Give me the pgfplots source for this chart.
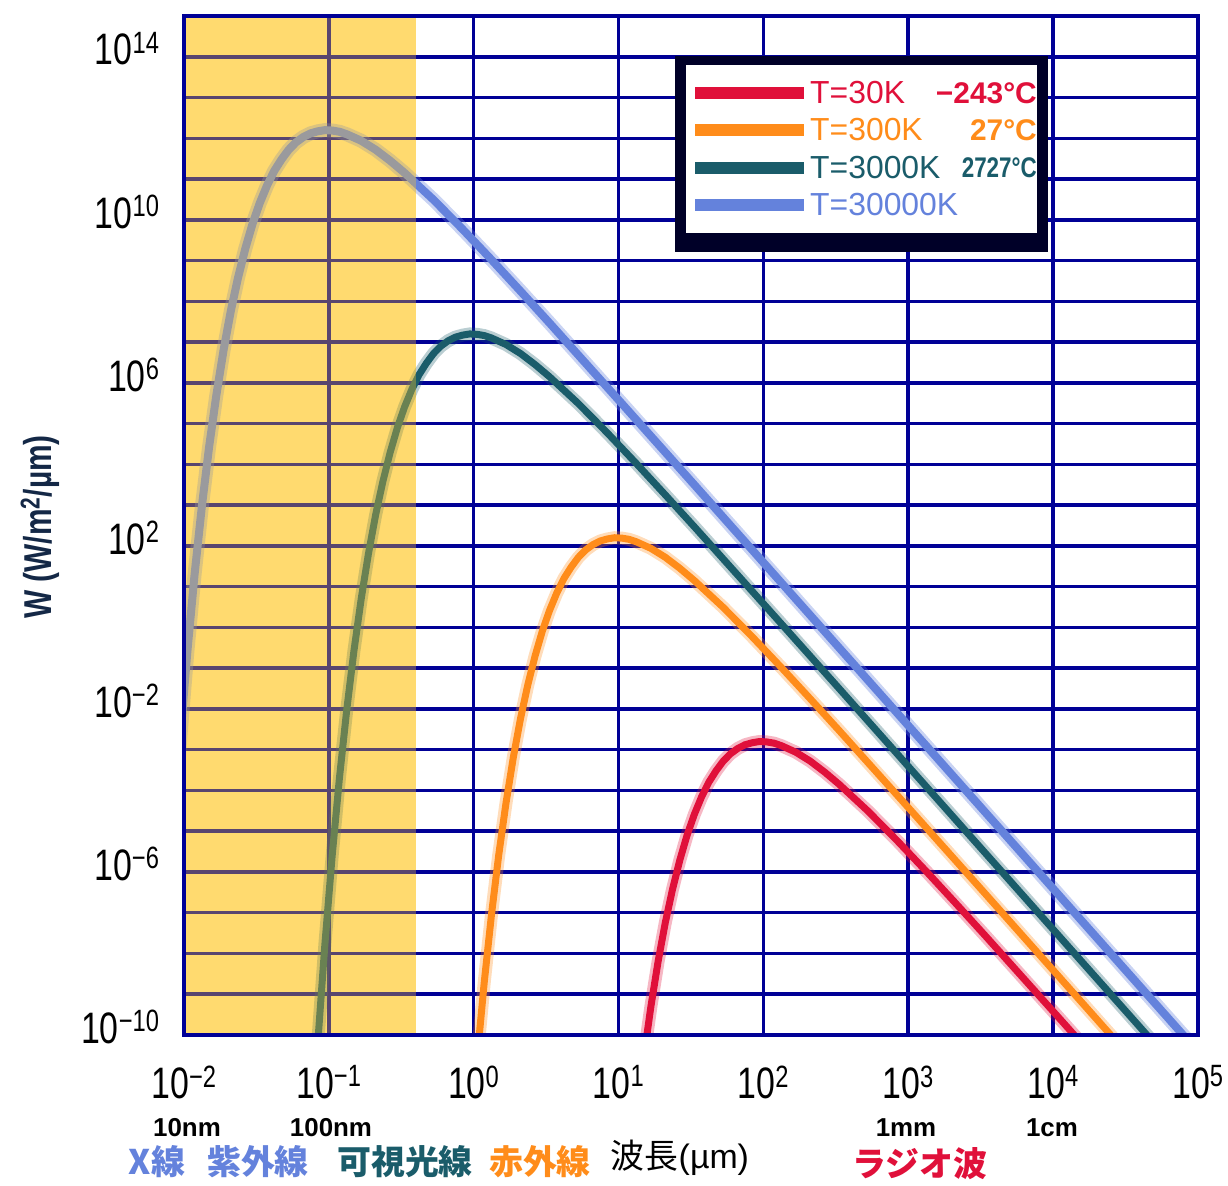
\documentclass[border=0pt]{standalone}
\usepackage{pgfplots}
\pgfplotsset{compat=1.18}
\usepackage{fontspec}
\setmainfont{Liberation Sans}
\newfontfamily\cjk{Noto Sans CJK JP}
\definecolor{gridblue}{RGB}{0,0,150}
\definecolor{cred}{RGB}{224,16,58}
\definecolor{corange}{RGB}{255,140,26}
\definecolor{cteal}{RGB}{26,92,106}
\definecolor{cblue}{RGB}{100,130,220}
\definecolor{yellowband}{RGB}{255,200,40}
\definecolor{yellowbase}{RGB}{255,228,150}
\definecolor{boxdark}{RGB}{0,0,40}
\newcommand{\tp}[1]{\scalebox{1}[1.3]{10\textsuperscript{#1}}}

% log10(wavelength / um)  vs  log10(W)
\pgfplotstableread{
x y
1.123 -12.04
1.173 -10.58
1.223 -9.31
1.273 -8.20
1.323 -7.24
1.373 -6.42
1.423 -5.71
1.473 -5.10
1.523 -4.59
1.573 -4.16
1.623 -3.80
1.673 -3.52
1.723 -3.28
1.773 -3.10
1.823 -2.97
1.873 -2.88
1.923 -2.83
1.973 -2.80
2.023 -2.81
2.073 -2.84
2.123 -2.90
2.223 -3.06
2.323 -3.28
2.423 -3.55
2.523 -3.85
2.723 -4.51
2.923 -5.23
3.123 -5.98
3.323 -6.75
3.523 -7.53
4.023 -9.51
4.523 -11.50
}\tA
\pgfplotstableread{
x y
-0.027 -12.76
0.023 -10.60
0.073 -8.70
0.123 -7.04
0.173 -5.58
0.223 -4.31
0.273 -3.20
0.323 -2.24
0.373 -1.42
0.423 -0.71
0.473 -0.10
0.523 0.41
0.573 0.84
0.623 1.20
0.673 1.48
0.723 1.72
0.773 1.90
0.823 2.03
0.873 2.12
0.923 2.17
0.973 2.20
1.023 2.19
1.073 2.16
1.123 2.10
1.223 1.94
1.323 1.72
1.423 1.45
1.523 1.15
1.723 0.49
1.923 -0.23
2.123 -0.98
2.323 -1.75
2.523 -2.53
3.023 -4.51
3.523 -6.50
4.023 -8.50
4.523 -10.50
}\tB
\pgfplotstableread{
x y
-1.127 -13.00
-1.077 -10.22
-1.027 -7.76
-0.977 -5.60
-0.927 -3.70
-0.877 -2.04
-0.827 -0.58
-0.777 0.69
-0.727 1.80
-0.677 2.76
-0.627 3.58
-0.577 4.29
-0.527 4.90
-0.477 5.41
-0.427 5.84
-0.377 6.20
-0.327 6.48
-0.277 6.72
-0.227 6.90
-0.177 7.03
-0.127 7.12
-0.077 7.17
-0.027 7.20
0.023 7.19
0.073 7.16
0.123 7.10
0.223 6.94
0.323 6.72
0.423 6.45
0.523 6.15
0.723 5.49
0.923 4.77
1.123 4.02
1.323 3.25
1.523 2.47
2.023 0.49
2.523 -1.50
3.023 -3.50
3.523 -5.50
4.023 -7.50
4.523 -9.50
5.023 -11.50
}\tC
\pgfplotstableread{
x y
-2.077 -5.22
-2.027 -2.76
-1.977 -0.60
-1.927 1.30
-1.877 2.96
-1.827 4.42
-1.777 5.69
-1.727 6.80
-1.677 7.76
-1.627 8.58
-1.577 9.29
-1.527 9.90
-1.477 10.41
-1.427 10.84
-1.377 11.20
-1.327 11.48
-1.277 11.72
-1.227 11.90
-1.177 12.03
-1.127 12.12
-1.077 12.17
-1.027 12.20
-0.977 12.19
-0.927 12.16
-0.877 12.10
-0.777 11.94
-0.677 11.72
-0.577 11.45
-0.477 11.15
-0.277 10.49
-0.077 9.77
0.123 9.02
0.323 8.25
0.523 7.47
1.023 5.49
1.523 3.50
2.023 1.50
2.523 -0.50
3.023 -2.50
3.523 -4.50
4.023 -6.50
4.523 -8.50
5.023 -10.50
}\tD

\begin{document}
\begin{tikzpicture}[x=1bp,y=1bp]
\useasboundingbox (0,0) rectangle (1228,1186);
\begin{axis}[
  at={(184bp,151bp)}, anchor=south west,
  scale only axis, width=1014bp, height=1019bp,
  xmin=-2, xmax=5, ymin=-10, ymax=15,
  axis line style={gridblue, line width=4bp},
  major tick length=0pt, minor tick length=0pt,
  xtick={-2,-1,0,1,2,3,4,5},
  xticklabels={\tp{−2},\tp{−1},\tp{0},\tp{1},\tp{2},\tp{3},\tp{4},\tp{5}},
  ytick={-10,-6,-2,2,6,10,14},
  yticklabels={\tp{−10},\tp{−6},\tp{−2},\tp{2},\tp{6},\tp{10},\tp{14}},
  ticklabel style={font=\fontsize{34}{40}\selectfont, text=black},
  xticklabel style={yshift=-27bp},
  yticklabel style={xshift=-21bp, yshift=8bp},
]
\addplot[draw=none, fill=yellowbase] coordinates {(-2,-10) (-0.395,-10) (-0.395,15) (-2,15)} -- cycle;
\pgfplotsinvokeforeach{-9,...,14}{\draw[gridblue, line width=3.5bp] (axis cs:-2,#1) -- (axis cs:5,#1);}
\pgfplotsinvokeforeach{-1,...,4}{\draw[gridblue, line width=3.5bp] (axis cs:#1,-10) -- (axis cs:#1,15);}
\addplot[cred, line width=13bp, opacity=0.3] table {\tA};
\addplot[cred, line width=7bp] table {\tA};
\addplot[corange, line width=13bp, opacity=0.3] table {\tB};
\addplot[corange, line width=7bp] table {\tB};
\addplot[cteal, line width=13bp, opacity=0.3] table {\tC};
\addplot[cteal, line width=7bp] table {\tC};
\addplot[cblue, line width=14bp, opacity=0.35] table {\tD};
\addplot[cblue, line width=8bp] table {\tD};
\fill[yellowband, fill opacity=0.35] (axis cs:-2,-10) rectangle (axis cs:-0.395,15);
\draw[gridblue, line width=4bp] (rel axis cs:0,0) rectangle (rel axis cs:1,1);
\end{axis}
% legend
\fill[boxdark] (675,934) rectangle (1048,1130);
\fill[white] (686,953) rectangle (1037,1121);
\draw[cred, line width=12bp] (695,1093) -- (804,1093);
\draw[corange, line width=12bp] (695,1056) -- (804,1056);
\draw[cteal, line width=12bp] (695,1018) -- (804,1018);
\draw[cblue, line width=12bp] (695,981) -- (804,981);
\begin{scope}[every node/.style={inner sep=0pt, font=\fontsize{32}{36}\selectfont}]
\node[anchor=west, text=cred] at (810,1093) {T=30K};
\node[anchor=west, text=corange] at (810,1056) {T=300K};
\node[anchor=west, text=cteal] at (810,1018) {T=3000K};
\node[anchor=west, text=cblue] at (810,981) {T=30000K};
\end{scope}
\begin{scope}[every node/.style={inner sep=0pt, font=\fontsize{30}{34}\selectfont\bfseries}]
\node[anchor=east, text=cred] at (1037,1093) {−243°C};
\node[anchor=east, text=corange] at (1037,1056) {27°C};
\node[anchor=east, text=cteal] at (1037,1018) {\scalebox{0.75}[0.95]{2727°C}};
\end{scope}
% y label
\node[rotate=90, inner sep=0pt, text={rgb,255:red,20;green,40;blue,70}, font=\fontsize{30}{34}\selectfont\bfseries] at (40,659) {\scalebox{1}[1.3]{W (W/m\textsuperscript{2}/µm)}};
% wavelength notes
\begin{scope}[every node/.style={inner sep=0pt, font=\fontsize{26}{30}\selectfont\bfseries}]
\node at (187,58) {10nm};
\node at (331,58) {100nm};
\node at (906,58) {1mm};
\node at (1052,58) {1cm};
\end{scope}
\begin{scope}[every node/.style={inner sep=0pt, font=\fontsize{34}{38}\selectfont\cjk\bfseries}]
\node[text=cblue] at (157,24) {X線};
\node[text=cblue] at (258,24) {紫外線};
\node[text=cteal] at (405,24) {可視光線};
\node[text=corange] at (540,24) {赤外線};
\node[text=cred] at (920,22) {ラジオ波};
\end{scope}
\node[inner sep=0pt, font=\fontsize{34}{38}\selectfont] at (680,28) {{\cjk 波長}(µm)};
\end{tikzpicture}
\end{document}
